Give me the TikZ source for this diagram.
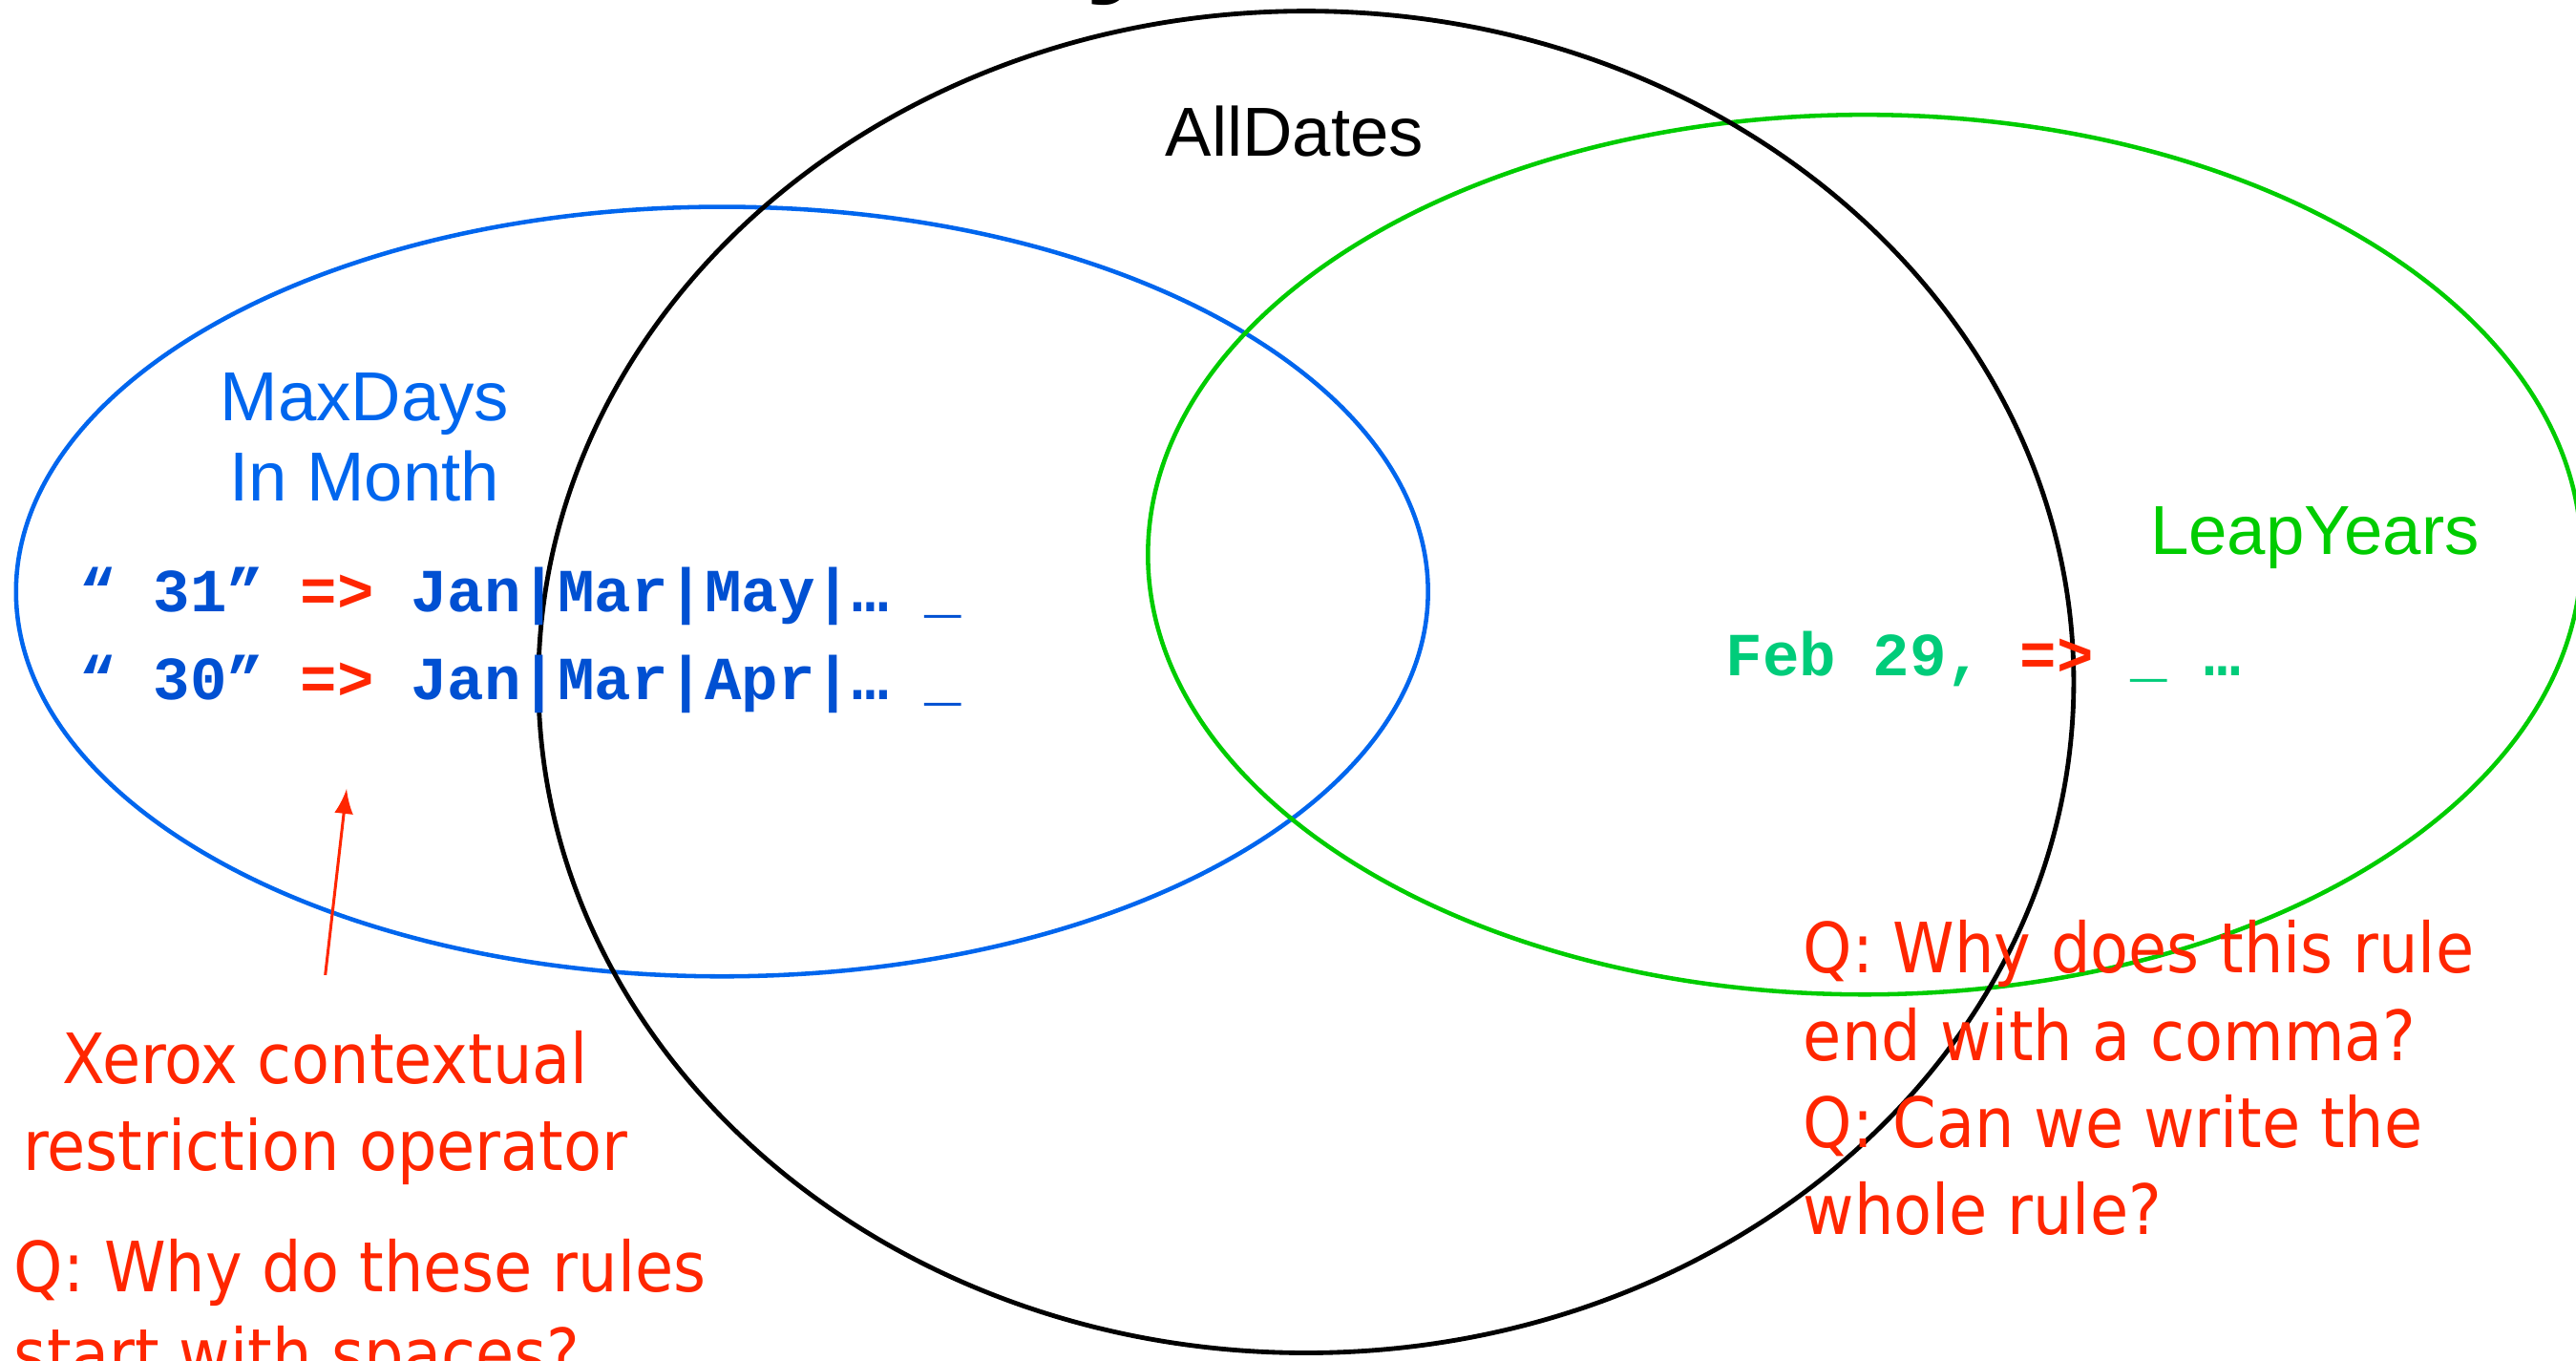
\documentclass[tikz,border=0pt]{standalone}
\usepackage{fontspec}
\setmainfont{Liberation Sans}
\newfontfamily\qfont{DejaVu Sans Condensed}
\newfontfamily\codefont{Liberation Mono}
\usetikzlibrary{arrows}
\definecolor{setblue}{RGB}{0,102,238}
\definecolor{codeblue}{RGB}{0,80,210}
\definecolor{setgreen}{RGB}{0,204,0}
\definecolor{codegreen}{RGB}{0,204,122}
\definecolor{qred}{RGB}{255,38,0}

\begin{document}
\begin{tikzpicture}[>=latex,x=0.01cm,y=-0.01cm,
    setlabel/.style={font=\fontsize{12}{13.9}\selectfont,align=center,inner sep=0pt},
    code/.style={font=\codefont\bfseries\fontsize{10.6}{13}\selectfont,inner sep=0pt,anchor=base west},
    qtext/.style={qred,font=\qfont\fontsize{12}{15.1}\selectfont,inner sep=0pt}]
    \useasboundingbox (0,0) rectangle (1568,828);
    % title (cut off)
    \node[anchor=base west,inner sep=0pt,font=\bfseries\fontsize{24}{24}\selectfont] (titley) at (660,-14) {y};
    % sets
    \draw[setblue,line width=0.75pt] (439.5,360) ellipse [x radius=4.295cm,y radius=2.34cm];
    \draw[setgreen,line width=0.75pt] (1135,337.5) ellipse [x radius=4.36cm,y radius=2.675cm];
    \draw[line width=0.8pt] (795,415) ellipse [x radius=4.67cm,y radius=4.08cm];
    % set names
    \node[setlabel] (alldates) at (788,80) {AllDates};
    \node[setlabel,setblue] (maxdays) at (222,266) {MaxDays\\In Month};
    \node[setlabel,setgreen] (leapyears) at (1409,327) {LeapYears};
    % rules
    \node[code,codeblue] (rule31) at (48,372) {“ 31” \textcolor{qred}{=>} Jan|Mar|May|… \_};
    \node[code,codeblue] (rule30) at (48,426) {“ 30” \textcolor{qred}{=>} Jan|Mar|Apr|… \_};
    \node[code,codegreen] (feb) at (1050,411) {Feb 29, \textcolor{qred}{=>} \_ …};
    % remarks
    \node[qtext,align=center] (xerox) at (198,674) {Xerox contextual\\restriction operator};
    \coordinate (optip) at (211,480);
    \draw[->,qred,line width=0.5pt] ([yshift=0.33cm]xerox.north) -- (optip);
    \node[qtext,align=left,anchor=west] (qspaces) at (8,801) {Q: Why do these rules\\start with spaces?};
    \node[qtext,align=left,anchor=west] (qcomma) at (1097,656) {Q: Why does this rule\\end with a comma?\\Q: Can we write the\\whole rule?};
\end{tikzpicture}
\end{document}
